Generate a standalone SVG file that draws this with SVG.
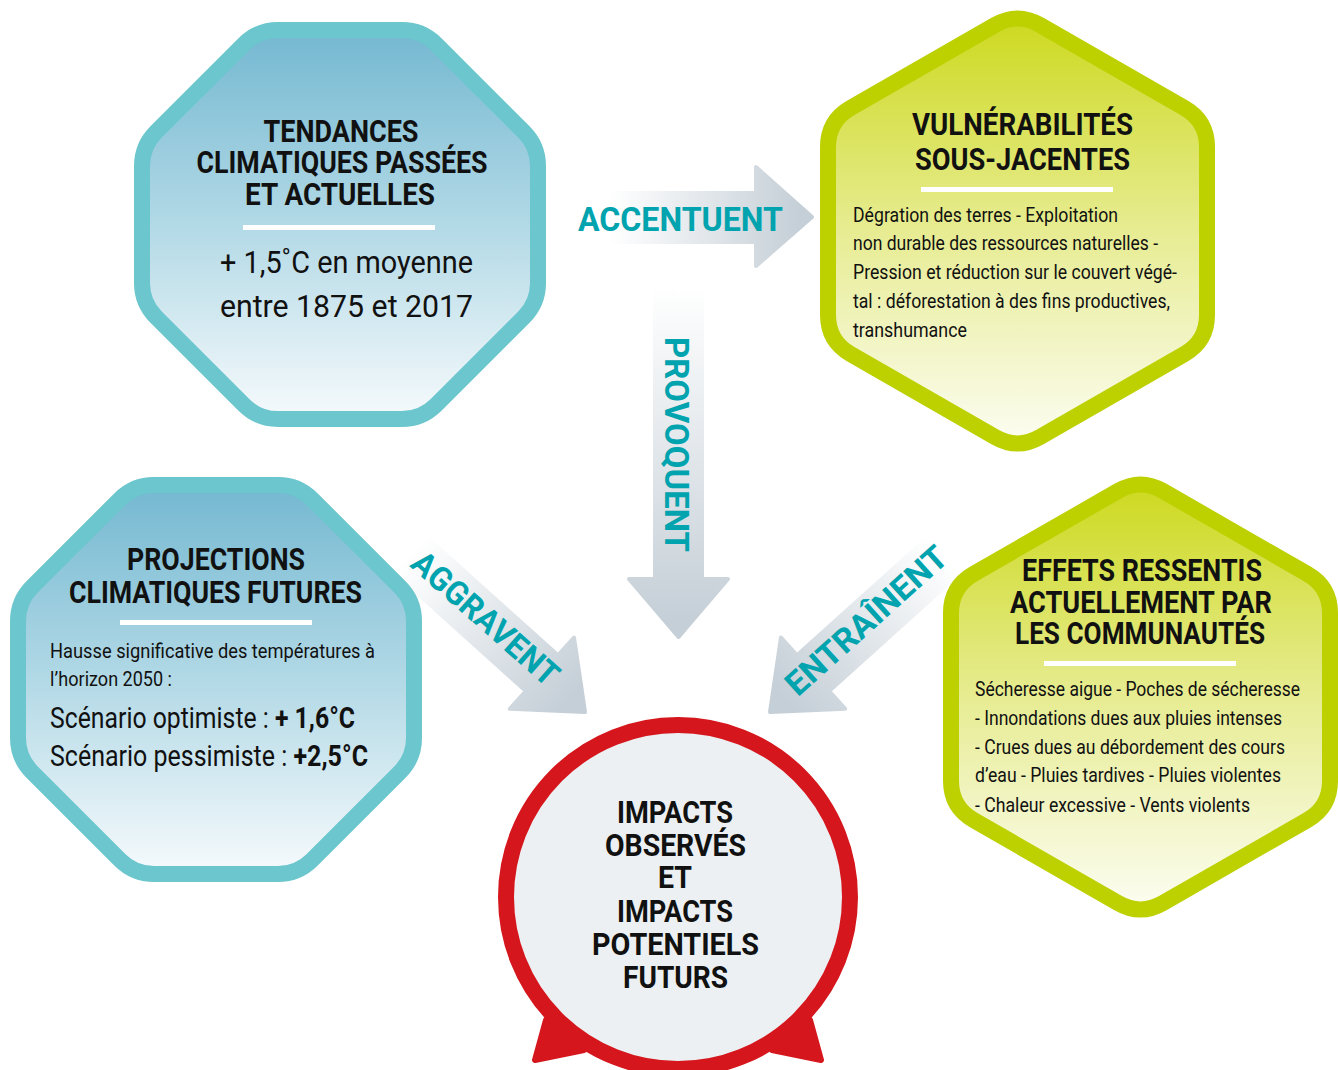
<svg xmlns="http://www.w3.org/2000/svg" width="1338" height="1070" viewBox="0 0 1338 1070">
<defs>
<style>
.t{font-family:Roboto,"Liberation Sans",sans-serif;font-weight:700;font-size:31px;fill:#111;text-anchor:middle}
.b{font-family:Roboto,"Liberation Sans",sans-serif;font-weight:400;font-size:21px;fill:#111}
.m{font-family:Roboto,"Liberation Sans",sans-serif;font-weight:400;font-size:32px;fill:#111}
.s{font-family:Roboto,"Liberation Sans",sans-serif;font-weight:400;font-size:29px;fill:#111}
.lbl{font-family:Roboto,"Liberation Sans",sans-serif;font-weight:700;font-size:33px;fill:#00A3AE}
.oct{stroke:#6BC6CD;stroke-width:16;fill:url(#gBlue)}
.hex{stroke:#BDD000;stroke-width:16;fill:url(#gGreen)}
.rule{fill:#fff}
</style>
<linearGradient id="gBlue" x1="0" y1="0" x2="0" y2="1">
<stop offset="0" stop-color="#74B8D1"/>
<stop offset="0.5" stop-color="#B2D9E6"/>
<stop offset="1" stop-color="#F6FAFC"/>
</linearGradient>
<linearGradient id="gGreen" x1="0" y1="0" x2="0" y2="1">
<stop offset="0" stop-color="#CDD91F"/>
<stop offset="0.5" stop-color="#E7EC92"/>
<stop offset="1" stop-color="#FCFDF2"/>
</linearGradient>
<linearGradient id="gH" gradientUnits="userSpaceOnUse" x1="610" y1="0" x2="800" y2="0">
<stop offset="0" stop-color="#FFFFFF"/>
<stop offset="1" stop-color="#C5CFD7"/>
</linearGradient>
<linearGradient id="gV" gradientUnits="userSpaceOnUse" x1="0" y1="285" x2="0" y2="620">
<stop offset="0" stop-color="#FFFFFF"/>
<stop offset="1" stop-color="#C5CFD7"/>
</linearGradient>
<linearGradient id="gD" gradientUnits="userSpaceOnUse" x1="-235" y1="0" x2="-20" y2="0">
<stop offset="0" stop-color="#FFFFFF"/>
<stop offset="1" stop-color="#C5CFD7"/>
</linearGradient>
<path id="octShape" d="M278,30 L402,30 Q422,30 436.1,44.1 L523.9,131.9 Q538,146 538,166 L538,283 Q538,303 523.9,317.1 L436.1,404.9 Q422,419 402,419 L278,419 Q258,419 243.9,404.9 L156.1,317.1 Q142,303 142,283 L142,166 Q142,146 156.1,131.9 L243.9,44.1 Q258,30 278,30 Z"/>
<path id="hexShape" d="M1040,25 L1184.5,108 Q1207,121 1207,147 L1207,315 Q1207,341 1184.5,354 L1040,437 Q1017.5,450 995,437 L850.5,354 Q828,341 828,315 L828,147 Q828,121 850.5,108 L995,25 Q1017.5,12 1040,25 Z"/>
<path id="diagArrow" d="M-235,-24 L-58,-24 L-58,-48 L0,0 L-58,48 L-58,24 L-235,24 Z"/>
</defs>

<g id="connectors">
<g id="arrow-accentuent">
<path d="M580,193 L756,193 L756,167 L812,217 L756,266 L756,242 L580,242 Z" fill="url(#gH)" stroke="url(#gH)" stroke-width="4" stroke-linejoin="round"/>
<text class="lbl" x="578" y="231" textLength="205" lengthAdjust="spacingAndGlyphs">ACCENTUENT</text>
</g>
<g id="arrow-provoquent">
<path d="M655,270 L678.5,297 L702,270 L702,579 L728,579 L678.5,637 L629,579 L655,579 Z" fill="url(#gV)" stroke="url(#gV)" stroke-width="4" stroke-linejoin="round"/>
<text class="lbl" transform="translate(665,444.5) rotate(90)" x="0" y="0" text-anchor="middle" textLength="215" lengthAdjust="spacingAndGlyphs">PROVOQUENT</text>
</g>
<g id="arrow-aggravent">
<use href="#diagArrow" transform="translate(585,712) rotate(42)" fill="url(#gD)" stroke="url(#gD)" stroke-width="4" stroke-linejoin="round"/>
<text class="lbl" transform="translate(478,627) rotate(41.5)" x="0" y="0" text-anchor="middle" textLength="184" lengthAdjust="spacingAndGlyphs">AGGRAVENT</text>
</g>
<g id="arrow-entrainent">
<use href="#diagArrow" transform="translate(770,712) rotate(138)" fill="url(#gD)" stroke="url(#gD)" stroke-width="4" stroke-linejoin="round"/>
<text class="lbl" transform="translate(874,629) rotate(-42)" x="0" y="0" text-anchor="middle" textLength="205" lengthAdjust="spacingAndGlyphs">ENTRAÎNENT</text>
</g>
</g>

<g id="node-tendances">
<use href="#octShape" class="oct"/>
<text class="t" x="341" y="142" textLength="155" lengthAdjust="spacingAndGlyphs">TENDANCES</text>
<text class="t" x="342" y="173" textLength="291" lengthAdjust="spacingAndGlyphs">CLIMATIQUES PASSÉES</text>
<text class="t" x="340" y="205" textLength="190" lengthAdjust="spacingAndGlyphs">ET ACTUELLES</text>
<rect class="rule" x="243" y="225" width="192" height="5"/>
<text class="m" x="220" y="273" textLength="253" lengthAdjust="spacingAndGlyphs">+ 1,5˚C en moyenne</text>
<text class="m" x="220" y="317" textLength="253" lengthAdjust="spacingAndGlyphs">entre 1875 et 2017</text>
</g>

<g id="node-vulnerabilites">
<use href="#hexShape" class="hex"/>
<text class="t" x="1022.5" y="135" font-size="32" textLength="221" lengthAdjust="spacingAndGlyphs">VULNÉRABILITÉS</text>
<text class="t" x="1022.5" y="170" font-size="32" textLength="215" lengthAdjust="spacingAndGlyphs">SOUS-JACENTES</text>
<rect class="rule" x="921" y="187" width="192" height="5"/>
<text class="b" x="853" y="222" textLength="265" lengthAdjust="spacingAndGlyphs">Dégration des terres - Exploitation</text>
<text class="b" x="853" y="250" textLength="305" lengthAdjust="spacingAndGlyphs">non durable des ressources naturelles -</text>
<text class="b" x="853" y="279" textLength="324" lengthAdjust="spacingAndGlyphs">Pression et réduction sur le couvert végé-</text>
<text class="b" x="853" y="308" textLength="317" lengthAdjust="spacingAndGlyphs">tal : déforestation à des fins productives,</text>
<text class="b" x="853" y="337" textLength="114" lengthAdjust="spacingAndGlyphs">transhumance</text>
</g>

<g id="node-projections">
<use href="#octShape" class="oct" transform="translate(-124,455)"/>
<text class="t" x="216" y="570" textLength="178" lengthAdjust="spacingAndGlyphs">PROJECTIONS</text>
<text class="t" x="215.5" y="603" textLength="293" lengthAdjust="spacingAndGlyphs">CLIMATIQUES FUTURES</text>
<rect class="rule" x="120" y="620" width="192" height="5"/>
<text class="b" x="50" y="658" textLength="325" lengthAdjust="spacingAndGlyphs">Hausse significative des températures à</text>
<text class="b" x="50" y="686" textLength="122" lengthAdjust="spacingAndGlyphs">l’horizon 2050 :</text>
<text class="s" x="50" y="728" textLength="305" lengthAdjust="spacingAndGlyphs">Scénario optimiste : <tspan font-weight="700">+ 1,6°C</tspan></text>
<text class="s" x="50" y="766" textLength="318" lengthAdjust="spacingAndGlyphs">Scénario pessimiste : <tspan font-weight="700">+2,5°C</tspan></text>
</g>

<g id="node-effets">
<use href="#hexShape" class="hex" transform="translate(123,466)"/>
<text class="t" x="1142" y="581" textLength="240" lengthAdjust="spacingAndGlyphs">EFFETS RESSENTIS</text>
<text class="t" x="1141" y="613" textLength="262" lengthAdjust="spacingAndGlyphs">ACTUELLEMENT PAR</text>
<text class="t" x="1140" y="644" textLength="250" lengthAdjust="spacingAndGlyphs">LES COMMUNAUTÉS</text>
<rect class="rule" x="1044" y="661" width="192" height="5"/>
<text class="b" x="975" y="696" textLength="325" lengthAdjust="spacingAndGlyphs">Sécheresse aigue - Poches de sécheresse</text>
<text class="b" x="975" y="725" textLength="307" lengthAdjust="spacingAndGlyphs">- Innondations dues aux pluies intenses</text>
<text class="b" x="975" y="754" textLength="310" lengthAdjust="spacingAndGlyphs">- Crues dues au débordement des cours</text>
<text class="b" x="975" y="782" textLength="306" lengthAdjust="spacingAndGlyphs">d’eau - Pluies tardives - Pluies violentes</text>
<text class="b" x="975" y="812" textLength="275" lengthAdjust="spacingAndGlyphs">- Chaleur excessive - Vents violents</text>
</g>

<g id="node-impacts">
<path d="M546,1020 L535,1060 L584,1050 Z" fill="#D5161C" stroke="#D5161C" stroke-width="6" stroke-linejoin="round"/>
<path d="M810,1020 L821,1060 L772,1050 Z" fill="#D5161C" stroke="#D5161C" stroke-width="6" stroke-linejoin="round"/>
<circle cx="678" cy="897" r="172" fill="#ECF0F3" stroke="#D5161C" stroke-width="16"/>
<text class="t" x="675" y="823" font-size="32" textLength="116" lengthAdjust="spacingAndGlyphs">IMPACTS</text>
<text class="t" x="675.5" y="856" font-size="32" textLength="141" lengthAdjust="spacingAndGlyphs">OBSERVÉS</text>
<text class="t" x="675" y="888" font-size="32" textLength="34" lengthAdjust="spacingAndGlyphs">ET</text>
<text class="t" x="675" y="922" font-size="32" textLength="116" lengthAdjust="spacingAndGlyphs">IMPACTS</text>
<text class="t" x="675.5" y="955" font-size="32" textLength="167" lengthAdjust="spacingAndGlyphs">POTENTIELS</text>
<text class="t" x="675.5" y="988" font-size="32" textLength="105" lengthAdjust="spacingAndGlyphs">FUTURS</text>
</g>
</svg>
